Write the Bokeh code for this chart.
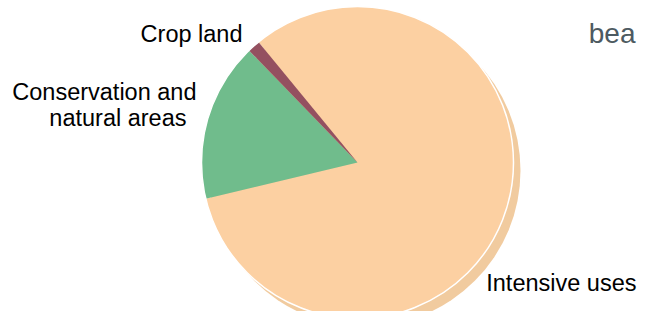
import math
from bokeh.plotting import figure
from bokeh.models import Range1d, ColumnDataSource
from bokeh.core.properties import value
from bokeh.embed import file_html
from bokeh.resources import INLINE

# ---- data ----
categories = ["Intensive uses", "Conservation and natural areas", "Crop land"]
shares = [82.2, 16.5, 1.3]
colors = ["#FCD0A2", "#70BC8C", "#945060"]
label_lines = [["Intensive uses"], ["Conservation and", "natural areas"], ["Crop land"]]

# ---- layout ----
W, H = 637, 311
cx, cy, r = 357, 149, 156
start_deg = 129.4  # first slice starts here, slices go clockwise

p = figure(width=W, height=H, output_backend="svg", toolbar_location=None,
           x_range=Range1d(0, W), y_range=Range1d(0, H), min_border=0)
p.axis.visible = False
p.grid.visible = False
p.outline_line_color = None
p.background_fill_color = "white"
p.border_fill_color = "white"

total = sum(shares)
starts, ends = [], []
cum = 0.0
for s in shares:
    a0 = start_deg - cum / total * 360.0
    cum += s
    a1 = start_deg - cum / total * 360.0
    starts.append(math.radians(a0))
    ends.append(math.radians(a1))

src = ColumnDataSource(dict(x=[cx] * len(shares), y=[cy] * len(shares),
                            start=starts, end=ends, color=colors, cat=categories))

# shadow
p.circle(x=[cx + 7], y=[cy - 8], radius=r, fill_color="#F1CB9F", line_color=None)
# slices
p.wedge(x="x", y="y", radius=r, start_angle="start", end_angle="end",
        direction="clock", fill_color="color", line_color=None, source=src)
# white rim
p.circle(x=[cx], y=[cy], radius=r, fill_alpha=0, line_color="white", line_width=1.5)

font = value("Liberation Sans")
# labels (right edge x, middle y per line)
lab_pos = [[(636, 29)], [(196, 220), (186, 194)], [(242, 278)]]
tx, ty, tt = [], [], []
for lines, pos in zip(label_lines, lab_pos):
    for line, (x, y) in zip(lines, pos):
        tx.append(x)
        ty.append(y)
        tt.append(line)
p.text(x=tx, y=ty, text=tt, text_align="right", text_baseline="middle",
       text_font=font, text_font_size="23.5px", text_color="#000000")

# partially visible neighbouring text
p.text(x=[635], y=[278], text=["bea"], text_align="right", text_baseline="middle",
       text_font=font, text_font_size="28px", text_color="#4d5a61")

open("out.html", "w").write(file_html(p, INLINE))
